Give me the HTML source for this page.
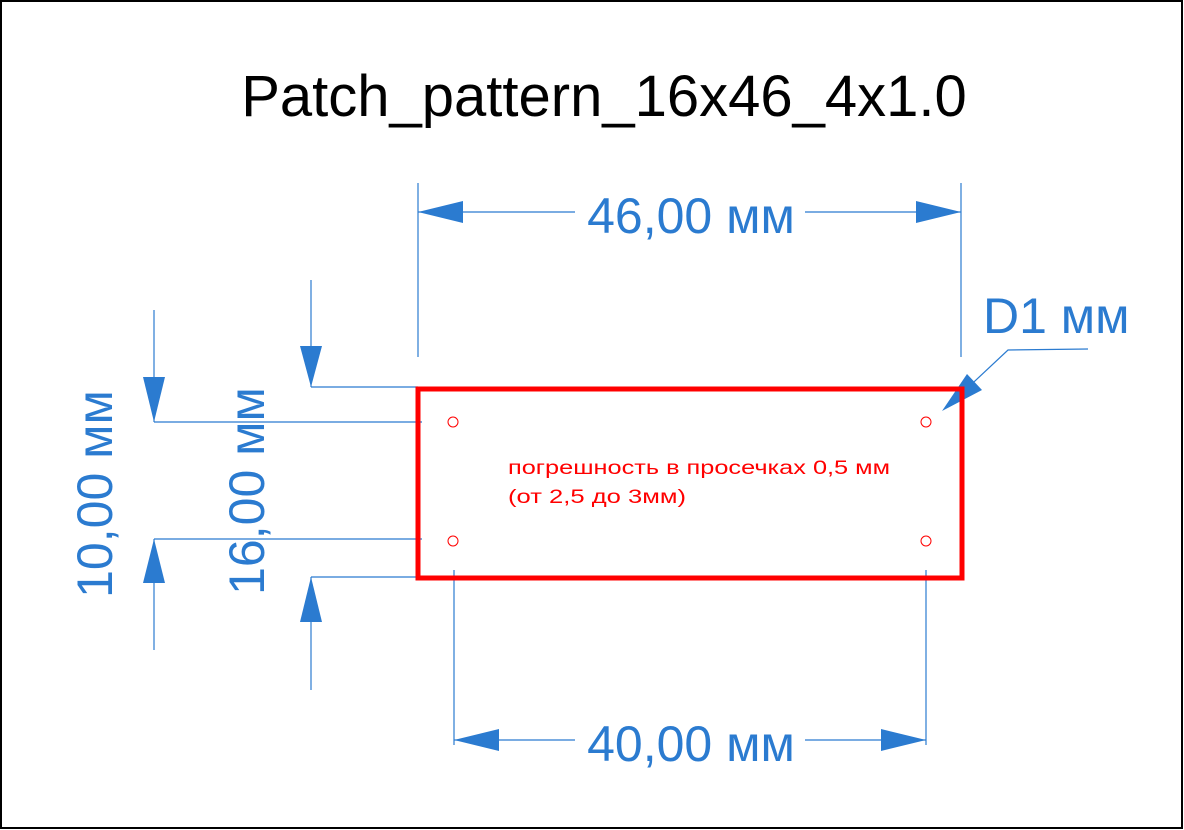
<!DOCTYPE html>
<html><head><meta charset="utf-8"><style>
html,body{margin:0;padding:0;background:#fff;}
svg{display:block;}
text{font-family:"Liberation Sans",sans-serif;}
</style></head><body>
<svg width="1184" height="830" viewBox="0 0 1184 830" xmlns="http://www.w3.org/2000/svg">
<rect x="1" y="1" width="1181" height="827" fill="#fff" stroke="#000" stroke-width="2"/>
<text x="604" y="116" font-size="58" text-anchor="middle" fill="#000">Patch_pattern_16x46_4x1.0</text>
<g stroke="#2b7bd0" stroke-width="1.2" fill="none">
<line x1="418" y1="183" x2="418" y2="357"/>
<line x1="961" y1="183" x2="961" y2="357"/>
<line x1="418" y1="212" x2="575" y2="212"/>
<line x1="805" y1="212" x2="961" y2="212"/>
<line x1="454" y1="570" x2="454" y2="745"/>
<line x1="926" y1="570" x2="926" y2="745"/>
<line x1="454" y1="740" x2="575" y2="740"/>
<line x1="805" y1="740" x2="926" y2="740"/>
<line x1="154" y1="310" x2="154" y2="422"/>
<line x1="154" y1="539" x2="154" y2="650"/>
<line x1="154" y1="422" x2="422" y2="422"/>
<line x1="154" y1="539" x2="422" y2="539"/>
<line x1="311" y1="280" x2="311" y2="387"/>
<line x1="311" y1="577" x2="311" y2="690"/>
<line x1="311" y1="387" x2="418" y2="387"/>
<line x1="311" y1="577" x2="418" y2="577"/>
<polyline points="1088,349 1008,350 960,395"/>
</g>
<g fill="#2b7bd0">
<polygon points="418,212 463,201 463,223"/>
<polygon points="961,212 916,201 916,223"/>
<polygon points="454,740 499,729 499,751"/>
<polygon points="926,740 881,729 881,751"/>
<polygon points="154,422 143,377 165,377"/>
<polygon points="154,539 143,583 165,583"/>
<polygon points="311,387 300,346 322,346"/>
<polygon points="311,577 300,622 322,622"/>
<polygon points="942,411 967,374 982,390"/>
</g>
<g fill="#2b7bd0" font-size="50">
<text x="691" y="233" text-anchor="middle">46,00 мм</text>
<text x="691" y="761" text-anchor="middle">40,00 мм</text>
<text x="983" y="333">D1 мм</text>
<text transform="translate(112,494) rotate(-90)" text-anchor="middle">10,00 мм</text>
<text transform="translate(264,491) rotate(-90)" text-anchor="middle">16,00 мм</text>
</g>
<rect x="418" y="389" width="544" height="189" fill="none" stroke="#ff0000" stroke-width="5"/>
<g fill="none" stroke="#ff0000" stroke-width="1">
<circle cx="453" cy="422" r="5"/><circle cx="926" cy="422" r="5"/>
<circle cx="453" cy="541" r="5"/><circle cx="926" cy="541" r="5"/>
</g>
<text x="508" y="474" font-size="19" fill="#ff0000" textLength="382" lengthAdjust="spacingAndGlyphs">погрешность в просечках 0,5 мм</text>
<text x="508" y="503" font-size="19" fill="#ff0000" textLength="178" lengthAdjust="spacingAndGlyphs">(от 2,5 до 3мм)</text>
</svg>
</body></html>
